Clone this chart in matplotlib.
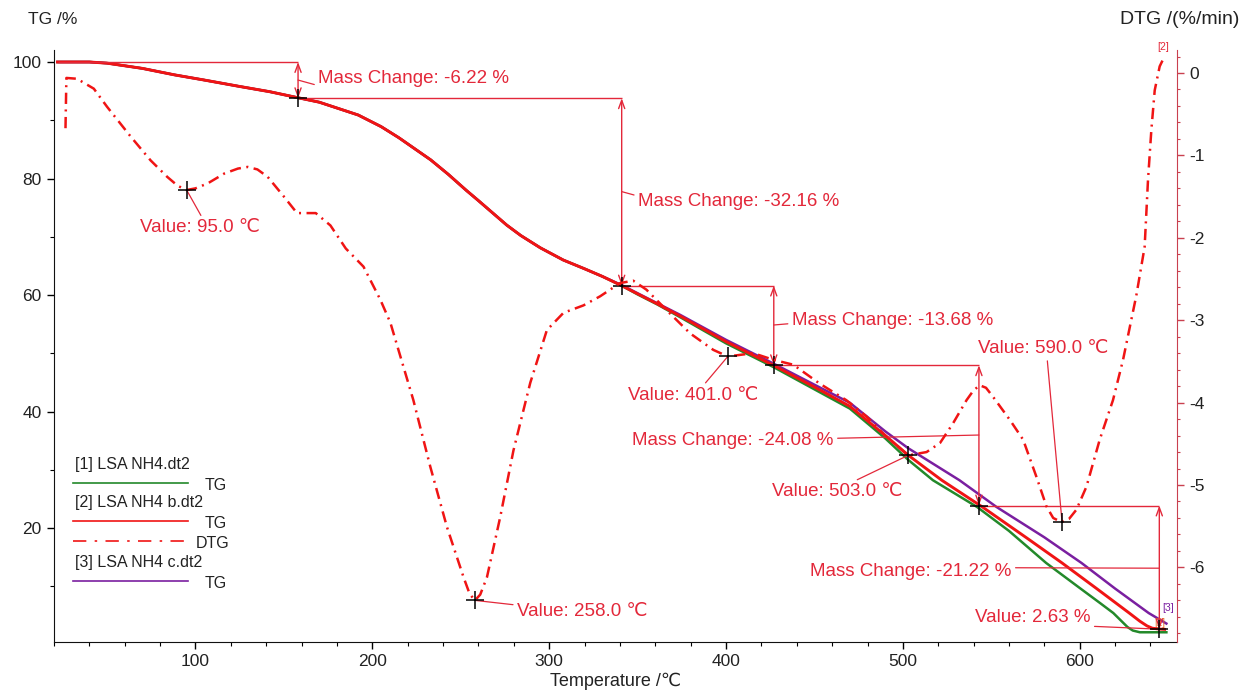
import matplotlib
matplotlib.use('Agg')
import matplotlib.pyplot as plt
from matplotlib.ticker import MultipleLocator
from matplotlib.lines import Line2D

plt.rcParams['font.family'] = ['Liberation Sans', 'DejaVu Sans']
plt.rcParams['axes.unicode_minus'] = False

# TG curves (temperature in C, mass in %)
temp_green = [22, 30, 40, 50, 70, 88, 105, 125, 142, 159, 170, 180, 192, 205, 215, 233, 243, 253,
              260, 268, 276, 284, 295, 308, 320, 330, 341, 350, 361, 374, 400,
              427, 450, 470, 490, 503, 517, 542, 560, 581, 600, 612, 619, 623, 627, 630, 634, 649]
tg_green = [100, 100, 100, 99.8, 98.9, 97.8, 96.9, 95.8, 94.9, 93.8, 93.1, 92.1, 90.9, 88.9, 87.0,
            83.2, 80.7, 78.0, 76.2, 74.1, 72.0, 70.2, 68.1, 66.0, 64.5, 63.2, 61.6, 60.1, 58.4,
            56.2, 51.7, 47.6, 43.8, 40.5, 35.4, 31.7, 28.2, 23.6, 19.5, 14.0, 9.7, 7.0, 5.4, 4.2,
            3.0, 2.4, 2.1, 2.1]

temp_red = [22, 30, 40, 50, 70, 88, 105, 125, 142, 159, 170, 180, 192, 205, 215, 233, 243, 253,
            260, 268, 276, 284, 295, 308, 320, 330, 341, 350, 361, 374, 400,
            427, 450, 470, 490, 503, 522, 545, 570, 590, 610, 628, 634, 638, 641, 645, 648]
tg_red = [100, 100, 100, 99.8, 98.9, 97.8, 96.9, 95.8, 94.9, 93.8, 93.1, 92.1, 90.9, 88.9, 87.0,
          83.2, 80.7, 78.0, 76.2, 74.1, 72.0, 70.2, 68.1, 66.0, 64.5, 63.2, 61.6, 60.2, 58.5,
          56.4, 52.0, 47.9, 44.2, 40.9, 35.9, 32.5, 28.2, 23.6, 18.3, 14.0, 9.5, 5.4, 4.0, 3.2,
          2.8, 2.65, 2.6]

temp_purple = [22, 30, 40, 50, 70, 88, 105, 125, 142, 159, 170, 180, 192, 205, 215, 233, 243, 253,
               260, 268, 276, 284, 295, 308, 320, 330, 341, 350, 361, 374, 400,
               427, 450, 470, 490, 503, 532, 553, 580, 601, 620, 639, 649]
tg_purple = [100, 100, 100, 99.8, 98.9, 97.8, 96.9, 95.8, 94.9, 93.8, 93.1, 92.1, 90.9, 88.9, 87.0,
             83.2, 80.7, 78.0, 76.2, 74.1, 72.0, 70.2, 68.1, 66.0, 64.5, 63.2, 61.7, 60.3, 58.6,
             56.6, 52.3, 48.2, 44.6, 41.5, 36.6, 33.7, 28.2, 23.6, 18.4, 14.0, 9.6, 5.4, 3.6]

# DTG of sample [2] (%/min)
temp_dtg = [26.5, 27, 33, 42.5, 50, 63.3, 74.6, 84, 90, 95, 100, 106.9, 116.3, 124, 129.5, 135,
            140.8, 150, 157.4, 168, 176.3, 185, 195, 204.5, 210.2, 223.2, 232.8, 242.2, 251.6,
            255, 258, 261, 264.8, 272.3, 279.8, 289.3, 298.7, 308.1, 319.4, 328.8, 340, 347.5,
            355, 366.5, 379.7, 392.8, 401, 415.4, 426.7, 438, 453, 468, 479.5, 490, 503, 513.4,
            521, 528.4, 536, 540, 543.5, 547, 551, 560.5, 568, 575.5, 581.2, 585, 589.7, 594,
            598.1, 603.8, 611.3, 618.8, 624.5, 632, 636.7, 638.6, 640.5, 642.4, 645.2, 647]
dtg = [-0.67, -0.06, -0.07, -0.19, -0.41, -0.77, -1.06, -1.26, -1.37, -1.42, -1.40, -1.34, -1.22,
       -1.16, -1.14, -1.17, -1.26, -1.50, -1.70, -1.70, -1.85, -2.13, -2.35, -2.75, -3.03, -3.97,
       -4.78, -5.51, -6.12, -6.32, -6.40, -6.33, -6.12, -5.39, -4.58, -3.76, -3.12, -2.91, -2.82,
       -2.71, -2.55, -2.52, -2.63, -2.88, -3.16, -3.36, -3.44, -3.40, -3.48, -3.54, -3.77, -3.97,
       -4.17, -4.40, -4.64, -4.60, -4.49, -4.25, -3.97, -3.85, -3.79, -3.82, -3.93, -4.21, -4.45,
       -4.90, -5.26, -5.40, -5.45, -5.41, -5.30, -5.02, -4.45, -3.97, -3.48, -2.70, -2.11, -1.30,
       -0.69, -0.21, 0.08, 0.16]

# mass change steps on TG [2]
step_temp = [22, 158, 341, 427, 543, 645]
step_level = [100, 93.78, 61.62, 47.94, 23.86, 2.63]
step_change = ['-6.22', '-32.16', '-13.68', '-24.08', '-21.22']

# DTG peak values
peak_temp = [95.0, 258.0, 401.0, 503.0, 590.0]
peak_dtg = [-1.42, -6.40, -3.44, -4.64, -5.45]

red = '#f01414'
ann = '#e3283a'
green = '#23892a'
purple = '#7a1fa0'
txt = '#222222'

fig = plt.figure(figsize=(12.46, 6.90), dpi=100)
ax = fig.add_axes([54 / 1246, 1 - 642 / 690, (1177 - 54) / 1246, (642 - 50) / 690])
ax2 = ax.twinx()

ax.plot(temp_green, tg_green, color=green, lw=1.8, zorder=3)
ax.plot(temp_purple, tg_purple, color=purple, lw=1.8, zorder=3)
ax.plot(temp_red, tg_red, color=red, lw=2.1, zorder=4)
ax2.plot(temp_dtg, dtg, color=red, lw=1.8, dashes=(4.5, 2.2, 0.8, 2.2))

ax.set_xlim(20, 655)
ax.set_ylim(0.43, 102.06)
ax2.set_ylim(-6.905, 0.279)

# mass change steps
mc_text = [(169.5, 97.25), (350.3, 76.1), (437.3, 55.7), (346.9, 35.1), (447.5, 12.45)]
mc_conn = [96.9, 77.75, 54.85, 35.96, 13.1]
mc_rel = [(0, 0.05), (0, 0.8), (0, 0.3), (1, 0.6), (1, 0.75)]
for i in range(5):
    ax.hlines(step_level[i], step_temp[i], step_temp[i + 1], color=ann, lw=1.0, zorder=5)
    ax.annotate('', xy=(step_temp[i + 1], step_level[i + 1]), xytext=(step_temp[i + 1], step_level[i]),
                arrowprops=dict(arrowstyle='<->,head_length=0.6,head_width=0.22', color=ann, lw=1.0,
                                shrinkA=0, shrinkB=0), zorder=5)
    ax.annotate(f'Mass Change: {step_change[i]} %', xy=(step_temp[i + 1], mc_conn[i]),
                xytext=mc_text[i], ha='left', va='center', color=ann, fontsize=13.5,
                arrowprops=dict(arrowstyle='-', color=ann, lw=0.9, relpos=mc_rel[i],
                                shrinkA=1, shrinkB=0), zorder=6)
ax.plot(step_temp[1:], step_level[1:], '+', color='k', ms=13, mew=1.1, zorder=7)
ax.annotate(f'Value: {step_level[-1]} %', xy=(step_temp[-1], step_level[-1]), xytext=(540.7, 4.6),
            ha='left', va='center', color=ann, fontsize=13.5,
            arrowprops=dict(arrowstyle='-', color=ann, lw=0.9, relpos=(1, 0.0), shrinkA=1, shrinkB=0))

# DTG peak values
pk_text = [(68.4, -1.88), (281.9, -6.53), (344.6, -3.91), (426.0, -5.08), (542.4, -3.34)]
pk_rel = [(0.53, 1), (0, 0.85), (0.57, 1), (0.6, 1), (0.53, 0)]
for t, d, pos, rel in zip(peak_temp, peak_dtg, pk_text, pk_rel):
    ax2.annotate(f'Value: {t:.1f} \u2103', xy=(t, d), xytext=pos, ha='left', va='center',
                 color=ann, fontsize=13.5,
                 arrowprops=dict(arrowstyle='-', color=ann, lw=0.9, relpos=rel, shrinkA=1, shrinkB=0))
ax2.plot(peak_temp, peak_dtg, '+', color='k', ms=13, mew=1.1, zorder=7)

# curve tags
ax2.text(temp_dtg[-1], dtg[-1] + 0.1, '[2]', color=ann, fontsize=7.5, ha='center', va='bottom')
ax.text(temp_purple[-1] + 1, tg_purple[-1] + 1.8, '[3]', color=purple, fontsize=7.5, ha='center', va='bottom')
ax.text(temp_red[-1] - 2.5, tg_red[-1] + 0.2, '[2]', color='#e8702a', fontsize=7, ha='center', va='bottom')

# axes styling
ax.spines['top'].set_visible(False)
ax2.spines['top'].set_visible(False)
ax2.spines['left'].set_visible(False)
ax2.spines['bottom'].set_visible(False)
ax.spines['right'].set_visible(False)
ax2.spines['right'].set_color('#c9404f')
for s in ['left', 'bottom']:
    ax.spines[s].set_color('#111111')

ax.xaxis.set_major_locator(MultipleLocator(100))
ax.xaxis.set_minor_locator(MultipleLocator(20))
ax.yaxis.set_major_locator(MultipleLocator(20))
ax.yaxis.set_minor_locator(MultipleLocator(10))
ax2.yaxis.set_major_locator(MultipleLocator(1))
ax2.yaxis.set_minor_locator(MultipleLocator(0.2))
ax.set_yticks([20, 40, 60, 80, 100])
ax.tick_params(which='major', length=5, width=1, labelsize=12.5, labelcolor=txt, pad=4)
ax.tick_params(which='minor', length=3, width=0.8)
ax2.tick_params(which='major', length=5, width=1, labelsize=12.5, labelcolor=txt, color='#c9404f', pad=4)
ax2.tick_params(which='minor', length=2.5, width=0.8, color='#c9404f')

fig.text(28 / 1246, 1 - 20 / 690, 'TG /%', ha='left', va='center', fontsize=12.5, color=txt)
fig.text(1239 / 1246, 1 - 20 / 690, 'DTG /(%/min)', ha='right', va='center', fontsize=14, color=txt)
fig.text(616 / 1246, 1 - 681 / 690, 'Temperature /\u2103', ha='center', va='center', fontsize=13, color=txt)

# legend drawn like the instrument software
leg = [('[1] LSA NH4.dt2', None), (None, (green, '-', 'TG')),
       ('[2] LSA NH4 b.dt2', None), (None, (red, '-', 'TG')), (None, (red, '-.', 'DTG')),
       ('[3] LSA NH4 c.dt2', None), (None, (purple, '-', 'TG'))]
ys = [0.299, 0.2686, 0.2348, 0.2044, 0.1706, 0.1351, 0.103]
for (label, line), y in zip(leg, ys):
    if label:
        ax.text(0.0187, y, label, transform=ax.transAxes, fontsize=11.5, color=txt, va='center')
    else:
        c, ls, name = line
        ln = Line2D([0.0169, 0.1193], [y, y], transform=ax.transAxes, color=c, lw=1.2)
        if ls == '-.':
            ln.set_dashes((8, 5, 1.5, 5))
        ax.add_line(ln)
        ax.text(0.1345 if name == 'TG' else 0.1264, y - 0.004, name, transform=ax.transAxes,
                fontsize=11.5, color=txt, va='center')

fig.savefig('out.png', dpi=100)
